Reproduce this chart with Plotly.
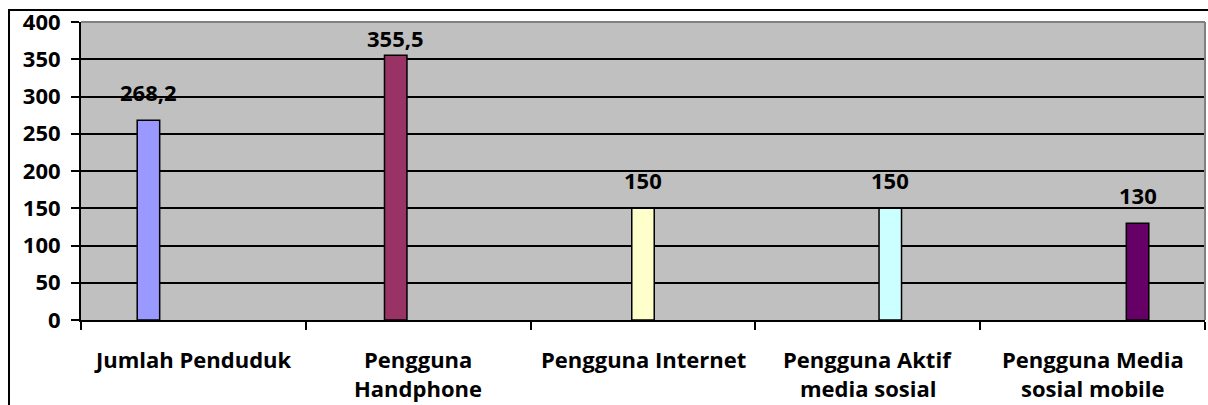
import plotly.graph_objects as go

categories = ["Jumlah Penduduk", "Pengguna Handphone", "Pengguna Internet",
              "Pengguna Aktif media sosial", "Pengguna Media sosial mobile"]
values = [268.2, 355.5, 150, 150, 130]
value_labels = ["268,2", "355,5", "150", "150", "130"]
label_lines = [["Jumlah Penduduk"], ["Pengguna", "Handphone"], ["Pengguna Internet"],
               ["Pengguna Aktif", "media sosial"], ["Pengguna Media", "sosial mobile"]]
bar_colors = ["#9999FF", "#993366", "#FFFFCC", "#CCFFFF", "#660066"]
y_ticks = [0, 50, 100, 150, 200, 250, 300, 350, 400]
y_max = 400

FONT = "Open Sans"
fsize = 22

W, H = 1208, 405
ml, mr, mt, mb = 81, 3, 22, 85
pw = W - ml - mr
ph = H - mt - mb

n = len(categories)
group_width = 0.5
slot = group_width / n

fig = go.Figure()
annotations = []
for i, cat in enumerate(categories):
    ys = [values[i] if j == i else None for j in range(n)]
    fig.add_trace(go.Bar(
        x=categories, y=ys,
        marker=dict(color=bar_colors[i], line=dict(color="black", width=1.5)),
        showlegend=False, hoverinfo="skip",
    ))
    avail = (y_max - values[i]) * ph / y_max
    shift = max(0, min(11, avail - 33))
    annotations.append(dict(
        x=i + (i - (n - 1) / 2) * slot, xref="x", y=values[i], yref="y",
        text=value_labels[i], showarrow=False, yanchor="bottom", xanchor="center",
        yshift=shift,
        font=dict(family=FONT, size=fsize, color="black", weight="bold"),
    ))

for i, lines in enumerate(label_lines):
    for k, line in enumerate(lines):
        annotations.append(dict(
            x=categories[i], xref="x", y=0, yref="paper",
            text=line, showarrow=False, yanchor="middle", xanchor="center",
            yshift=-39 - 29 * k,
            font=dict(family=FONT, size=fsize, color="black", weight="bold"),
        ))

shapes = [
    dict(type="line", xref="paper", yref="paper", x0=0, x1=1, y0=1, y1=1,
         line=dict(color="#808080", width=2)),
    dict(type="line", xref="paper", yref="paper", x0=1, x1=1, y0=0, y1=1,
         line=dict(color="#808080", width=2)),
    dict(type="rect", xref="paper", yref="paper",
         x0=(9 - ml) / pw, x1=1.05, y0=-0.5, y1=(mt + ph - 10) / ph,
         line=dict(color="black", width=2), fillcolor="rgba(0,0,0,0)"),
]

fig.update_layout(
    width=W, height=H,
    margin=dict(l=ml, r=mr, t=mt, b=mb, pad=0),
    paper_bgcolor="white", plot_bgcolor="#C0C0C0",
    barmode="group", bargap=1 - group_width, bargroupgap=0,
    annotations=annotations, shapes=shapes,
    xaxis=dict(type="category", showgrid=False, showline=True, linecolor="black",
               linewidth=2, ticks="outside", tickson="boundaries", ticklen=8,
               tickwidth=2, tickcolor="black", showticklabels=False,
               range=[-0.5, n - 0.5], zeroline=False),
    yaxis=dict(range=[0, y_max], tickvals=y_ticks, showgrid=True, gridcolor="black",
               gridwidth=2, showline=True, linecolor="black", linewidth=2,
               ticks="outside", ticklen=8, tickwidth=2, tickcolor="black",
               tickfont=dict(family=FONT, size=fsize, color="black", weight="bold"),
               ticklabelstandoff=6, zeroline=False),
)

fig.write_html("out.html")
